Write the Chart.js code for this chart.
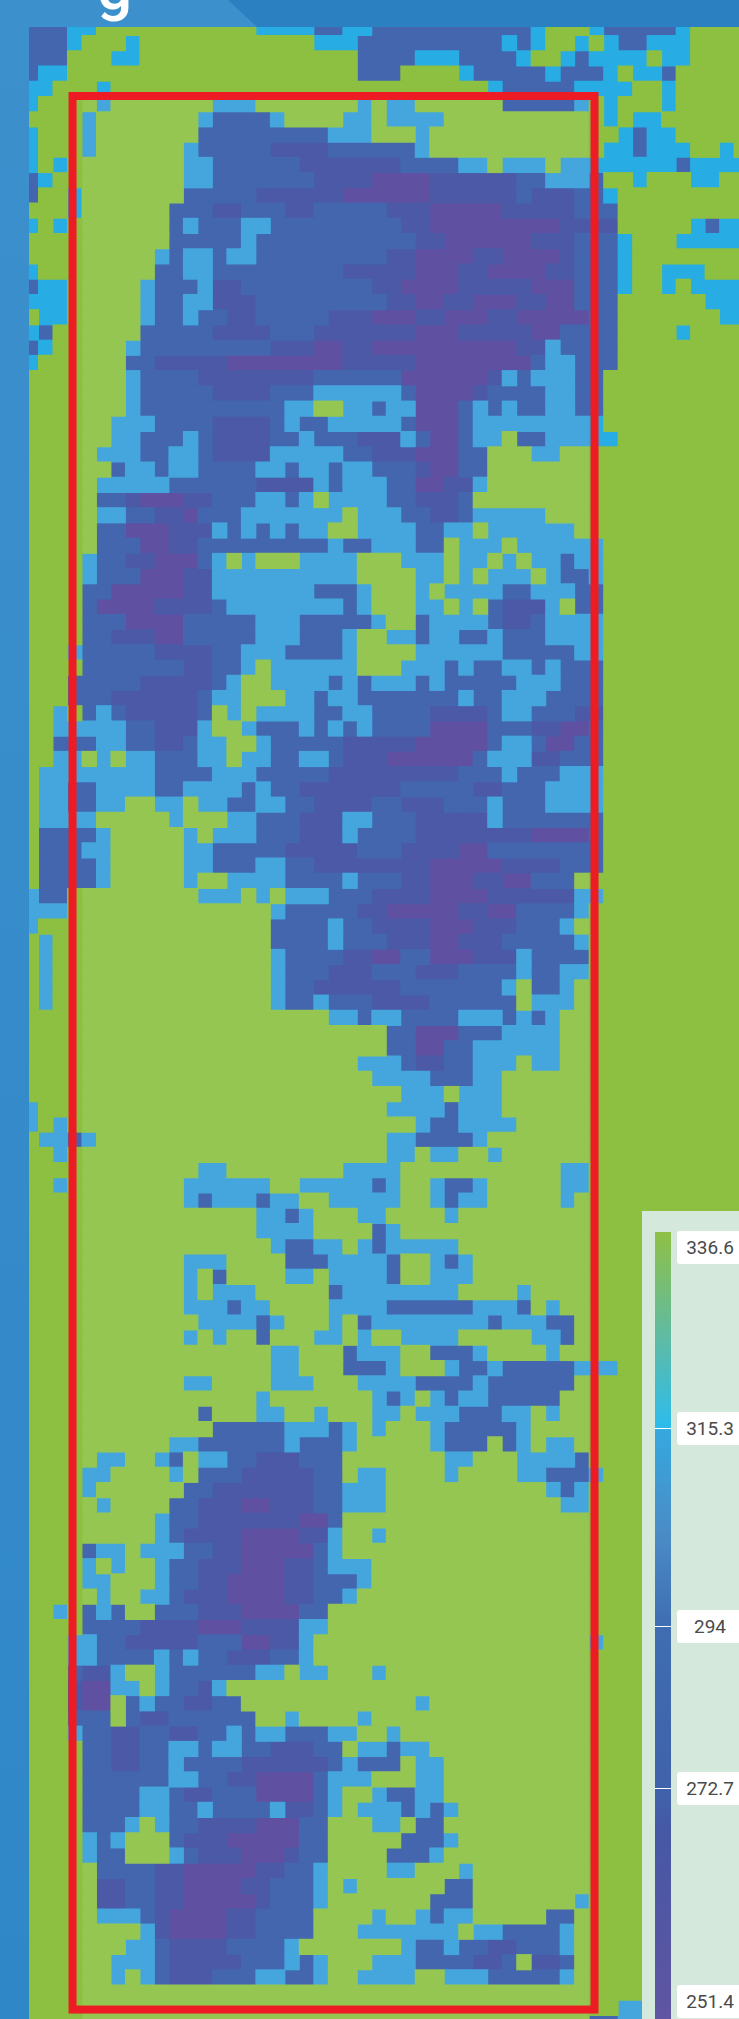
<!DOCTYPE html>
<html>
<head>
<meta charset="utf-8">
<script src="https://cdn.jsdelivr.net/npm/chart.js@4/dist/chart.umd.min.js"></script>
<style>
  html, body { margin: 0; padding: 0; background: #3089c8; }
  body { position: relative; width: 739px; height: 2019px; overflow: hidden; font-family: Roboto, sans-serif; }
  #strip { position: absolute; left: 0; top: 0; width: 29px; height: 2019px; background: linear-gradient(#3c90cc, #3087c8); }
  #header { position: absolute; left: 0; top: 0; width: 739px; height: 27px; background: #3c90cc; overflow: hidden; }
  #headerDark { position: absolute; inset: 0; background: #2a80c0; clip-path: polygon(228px 0, 257px 27px, 739px 27px, 739px 0); }
  #title { position: absolute; left: 97px; top: -47px; font: 500 62px/70px Roboto, sans-serif; color: #fff; }
  #heat { position: absolute; left: 29px; top: 27px; filter: blur(0.7px); }
  #panel { position: absolute; left: 642px; top: 1211px; width: 97px; height: 808px; background: #d5e8dc; }
  #ramp { position: absolute; left: 13px; top: 21px; width: 16px; height: 787px;
    background: linear-gradient(#8fc045 0px, #5dbba8 110px, #2dbcec 195px, #36a8df 199px, #4a8cc6 300px, #3f6db2 395px, #4062aa 560px, #4658a5 600px, #6055a2 787px); }
  .tick { position: absolute; left: 13px; width: 16px; height: 1px; background: #fff; }
  .lab { position: absolute; left: 35px; width: 66px; height: 33px; line-height: 33px; background: #fff; border-radius: 3px; text-align: center; font-size: 19px; color: #4a4a4a; }
</style>
</head>
<body>
<div id="strip"></div>
<canvas id="heat" width="710" height="1992"></canvas>
<div id="header"><div id="headerDark"></div><div id="title">g</div></div>
<div id="panel"><div id="ramp"></div></div>
<script>
// each row: "startColumn+level", a run lasts until the next token
const rowRuns = [
"0b 3c 5g 16c 20b 22c 24b 35c 36g 39c 40b 45c 46g",
"0b 3c 4g 7c 8g 20c 23b 33c 34b 35c 36g 38c 39g 40c 41b 43c 46g",
"0b 3g 6c 8g 23b 27c 30b 34c 35g 37c 38b 39c 43g 44c 46g",
"0b 1c 3g 23b 26g 30c 31b 36c 37b 40c 41g 42c 44b 45g",
"0c 2g 5c 6g 32c 33b 38c 42g 44c 45g",
"0c 1g 5c 6g 13c 16g 23c 24g 25c 27g 33b 38c 39g 40c 41g 44c 45g",
"0g 4c 5g 12c 13b 17c 18g 22c 24g 25c 29g 40c 41g 42c 44g",
"0c 1g 4c 5g 12b 21c 24g 27c 28g 41c 42b 43c 45g",
"0c 1g 4c 5g 11c 12b 17m 21b 27c 28g 40c 42b 43c 46g 48c 49g",
"0c 1g 2c 3g 11c 13b 19m 26b 30c 32g 33c 36g 37c 45b 46c",
"0b 1c 2g 11c 13b 20m 24p 28m 34b 36c 39b 40g 42c 43g 46c 48g",
"0b 1g 3c 4g 11b 16m 22p 28m 34b 35m 38b 40c 41g",
"0g 3c 4g 10b 13m 15b 18m 20b 25m 28p 33m 38b 41g",
"0c 1g 2c 3g 10b 11c 12b 15c 17b 26m 28p 37m 41g 46c 47b 48c",
"0g 10b 15c 16b 27m 29p 35m 38b 41c 42g 45c",
"0g 9c 10b 11c 13b 14c 16b 25m 27p 31m 33p 37m 38b 41c 42g",
"0c 1g 9b 11c 13b 22m 27p 30m 32p 36m 38b 41c 42g 44c 47g",
"0b 1c 3g 8c 9b 12c 13m 15b 24m 26p 30m 35p 38b 41c 42g 44c 45g 46c",
"0c 3g 8c 9b 11c 13m 16b 25m 27p 29m 31p 34m 36p 38b 41g 47c",
"0g 1c 3g 8c 9b 11c 12b 14m 16b 21m 24p 27m 29p 32m 34p 39b 41g 48c",
"0c 1b 2g 8b 13m 17b 20m 27p 30m 35p 37b 41g 45c 46g",
"0b 1c 2g 7c 8b 17m 20p 22m 24p 34m 36c 37b 41g",
"0c 1g 7b 9m 14p 22m 27p 35b 36c 38b 41g",
"0g 7c 8b 12m 20b 26p 32m 33c 34b 35c 38b 40g",
"0g 7c 8b 13m 17b 20c 26b 27p 31m 32b 36c 38b 40g",
"0g 7c 8b 18c 20g 22c 24b 25c 27p 30b 31c 32b 33c 34b 36c 38b 40g",
"0g 6c 9b 13m 17b 18c 19b 21c 26b 27p 30b 31c 40g",
"0g 6c 8b 11c 12b 13m 17b 19c 20b 23m 26c 27b 28p 30b 31c 33g 34b 36c 41g",
"0g 5c 8b 10c 12b 13m 17c 22b 24m 27p 30b 32g 35c 37g",
"0g 6b 7c 9b 10c 12b 16c 18b 19c 21b 22c 24b 27m 28p 30b 32g",
"0g 5c 10b 16m 20c 21b 22c 25b 27p 29m 31c 32g",
"0g 5b 7m 8p 11m 13b 16c 18b 19c 20g 21c 25b 27m 30b 31g",
"0g 5c 7b 9m 11p 12b 15c 22g 23c 26b 28m 30b 31c 36g",
"0g 5b 7p 10m 13c 14b 15c 16b 17c 18b 19c 21g 23c 27b 29c 31g 32c 38g",
"0g 5b 8p 10m 12b 21c 22b 24c 27b 29g 30c 33g 34c 40g",
"0g 4c 5b 7m 9p 12b 13c 14g 15c 16g 19c 23g 26c 29g 30c 32g 33c 34g 35c 37b 38c 40g",
"0g 4c 5b 8p 11m 13c 23g 27c 29g 30c 31g 32c 35g 36c 37b 39c 40g",
"0g 4b 6p 11m 13c 20b 23c 24g 27c 28g 29c 33b 35c 38b 40g",
"0g 4b 5p 9m 13b 14c 22b 23c 24g 27c 29g 30c 31g 32b 33m 36c 37g 38b 40g",
"0g 4b 7p 11b 16c 19b 24c 25g 27b 28c 32b 33m 35b 36c 40g",
"0g 4b 6m 9p 11b 16c 19b 22c 23g 25c 27b 28c 30b 32c 33b 36c 40g",
"0g 3c 4b 9m 13b 15c 18b 22c 23g 27c 33b 38c 40g",
"0g 4b 11m 13b 15c 16g 17c 23g 26c 29b 30c 31b 33c 35b 36c 37b 40g",
"0g 3b 8m 13b 14c 15g 17c 21b 22c 23b 24c 27b 28c 29b 34c 37b 40g",
"0g 3b 6m 8m 12b 13c 15g 18c 20b 21c 23b 30c 31b 33c 36b 40g",
"0g 2c 3g 4b 5c 6b 7m 12b 13g 14c 15g 16c 20b 22c 24b 28m 32b 33c 35b 38m 40g",
"0g 2c 7b 9m 12c 13g 15c 16b 19c 20b 21c 22b 23c 24b 28p 32b 35m 37p 39b 40g",
"0g 2b 5c 7b 9m 11b 12c 14g 16c 17b 22m 27p 32b 33c 35b 36p 38b 40g",
"0g 2c 4g 5c 6g 7c 9b 12c 14g 15c 17b 19c 21b 22m 25p 31b 32c 35m 37b 40g",
"0g 1c 9b 13c 16b 21m 24m 27m 30b 33c 34b 37c 40g",
"0g 1c 3b 5c 9b 11c 15b 16c 17b 19m 26b 31m 33b 36c 40g",
"0g 1c 3b 5c 7g 9c 11g 12c 14b 16c 18b 20m 24b 26m 29b 32c 33b 36c 40g",
"0g 1c 5g 10c 11g 14c 16b 19m 22c 24b 27m 30m 32c 33b 40g",
"0g 1b 5c 6g 11c 12g 13c 16b 19m 22c 23b 27m 31m 35p 39b 40g",
"0g 1b 4c 6g 11c 13b 18m 23b 26m 30p 32b 40g",
"0g 1b 5c 6g 11c 13b 16c 18b 20m 25m 28p 33m 37b 40g",
"0g 1b 5c 6g 11c 12g 14c 18b 22c 23b 26m 28p 31m 33p 35b 38g",
"0c 1b 3g 12c 15g 16c 17g 18c 21b 24m 28p 32m 38c 40g",
"0c 3g 17c 18b 23m 25p 30m 32p 34b 38c 39g",
"0c 1g 17b 21c 22b 24m 28p 31m 32m 34b 37c 38g",
"0g 1c 2g 17b 21c 22b 25m 28p 30m 33b 38c 39g",
"0g 1c 2g 17c 18b 22m 24p 26b 28p 31m 34c 35b 39g",
"0g 1c 2g 17c 18b 21m 24b 27m 30b 34c 35b 37c 39g",
"0g 1c 2g 17c 18b 20m 22m 26b 33c 34g 35b 37c 38g",
"0g 1c 2g 17c 18b 20c 21b 24m 28b 34g 35c 38g",
"0g 21c 23b 24c 26b 30c 33b 34c 35b 36c 37g",
"0g 25b 27p 30b 33c 37g",
"0g 25b 27p 29b 31c 37g",
"0g 23c 26b 27m 29b 31c 34g 35c 37g",
"0g 24c 28b 31c 33g",
"0g 26c 29g 30c 33g",
"0c 1g 25c 29b 30c 33g",
"0c 1g 2c 3g 27c 28b 30c 34g",
"0g 1c 3b 4c 5g 25c 27b 31c 32g",
"0g 2c 3g 25c 27g 28c 30g 32c 33g",
"0g 12c 14g 22c 26g 37c 39g",
"0g 2c 3g 11c 17g 19c 24b 25c 26g 28c 29b 31c 32g 37c 39g",
"0g 11c 12b 13c 16b 17c 19g 21c 26g 28c 29b 30c 32g 37c 38g",
"0g 16c 18b 19c 20g 23c 25g 29c 30g",
"0g 16c 20g 24b 25c 26g",
"0g 17c 18b 20c 22g 23c 24b 25c 30g",
"0g 11c 14g 18b 21c 25b 26g 28c 29b 30c 31g",
"0g 11c 12g 13b 14g 18c 20g 21c 25b 26g 28c 31g",
"0g 11c 12g 13c 16g 21b 22c 30g 34c 35g",
"0g 11c 14b 15c 17g 21c 25b 31c 34b 35g 36c 37g",
"0g 12c 16b 17c 18g 21c 22g 23b 24c 32b 33c 36b 38g",
"0g 11c 12g 13c 14g 16b 17g 20c 22g 23c 24g 26c 30g 35c 37b 38g",
"0g 17c 19g 22b 23c 26g 28b 31c 32g 36c 37g",
"0g 17c 19g 22b 25c 26g 29c 30b 32c 33b 38c 41g",
"0g 11c 13g 17c 20g 23c 27b 31c 32b 38g",
"0g 16c 17g 24c 25b 26c 27g 28c 29b 30c 32b 37g",
"0g 12b 13g 16c 18g 20c 21g 24c 26g 27c 30b 33c 35g 36c 37g",
"0g 13b 18c 21b 22c 23g 24c 25g 28c 29b 34c 35g",
"0g 10c 12b 18c 19b 22c 23g 28c 29b 32g 33b 34c 35g 36c 38g",
"0g 5c 7g 9c 10b 11g 12c 14b 16m 19b 22g 29c 31g 34c 38b 39g",
"0g 4c 6g 10c 11g 12b 15m 18m 20b 22g 23c 25g 29c 30g 34c 36b 39c 40g",
"0g 4c 5g 11b 13m 20b 22c 25g 36c 37b 38c 39g",
"0g 5c 6g 10b 12m 15p 17m 20b 22c 25g 37c 39g",
"0g 9c 10b 12m 16m 19p 21b 22g",
"0g 9c 10b 11m 15p 19m 21c 22g 24c 25g",
"0g 4b 5c 7g 8c 11b 13m 15p 20b 21c 22g",
"0g 4c 5g 6c 7g 9c 10b 12m 15p 18m 20b 21c 24g",
"0g 4c 6g 9c 10b 12m 14p 18m 20b 23c 24g",
"0g 5c 6g 8c 10b 11m 14p 18m 20b 22c 23g",
"0g 2c 3g 4b 5c 6b 7g 9b 12m 15p 19b 21g",
"0g 4b 8m 12p 15m 19c 21g",
"0g 3c 5b 7m 12b 15p 17m 19c 20g 39c 40g",
"0g 3c 5b 9c 10b 11c 12b 14m 17b 19c 20g",
"0g 3b 4m 6c 7g 9c 10b 16c 18g 19c 21g 24c 25g",
"0g 3m 4p 6c 8g 9c 10b 12m 13c 14g",
"0g 3m 4p 6g 7b 8c 9b 11m 13b 15g 27c 28g",
"0g 3b 6g 7b 8m 10b 14b 16g 18c 19g 23c 24g",
"0g 3c 4b 6m 8b 10m 12b 14c 15b 16c 18b 21c 23g 25c 26g",
"0g 4b 6m 8b 10c 12b 13c 15b 17m 20b 22g 23c 25b 26c 28g",
"0g 4b 6m 8b 10c 11b 15m 21b 22c 23b 26g 27c 29g",
"0g 4b 10c 12b 14m 16p 20b 21c 24g 27c 29g",
"0g 4b 8c 10b 11m 13b 16p 20b 21c 22g 24c 25b 27c 29g",
"0g 4b 8c 10b 12c 13b 17c 18m 20b 21c 22g 23c 26b 27c 28b 29c 30g",
"0g 4b 7c 8g 9c 10b 12m 16p 19b 21g 24c 26g 27b 29g",
"0g 4c 5b 6c 7g 10b 11m 14p 16p 19b 21g 26b 29c 30g",
"0g 4c 5b 7g 10c 11b 12m 15p 18m 19b 21g 25b 28c 29g",
"0g 5b 9m 11p 16m 18b 20c 21g 25c 27g 30c 31g",
"0g 5m 7b 9m 11p 15m 17b 20c 21g 22c 23g 29b 31g",
"0g 5m 7b 9m 11p 16m 17b 20c 21g 28b 31g 38c 39g",
"0g 5c 8b 9m 10p 14m 16b 20g 24c 25g 27c 28b 29c 31g 36b 38g",
"0g 8c 9m 10p 14m 16b 20g 23c 30g 31c 33b 37c 38g",
"0g 7c 9b 10m 13m 14b 18c 19g 26c 27b 29c 30b 32m 34b 37c 38g",
"0g 6c 9b 10m 13m 15b 18c 19b 20c 21g 24c 27b 31m 33b 34g 35m 37b 38g",
"0g 6c 7g 8c 9b 10m 12m 13b 16c 18b 20c 21g 23c 27g 29c 32b 37c 38g",
"0g",
"0g 41c",
"0g 39b 41c"
];

const levels = ["g", "h", "a", "c", "b", "m", "p"];
const levelColors = ["#8dbf41", "#95c652", "#27ace3", "#44a6dd", "#4366ae", "#4b59a7", "#5f50a1"];

const legendValues = ["336.6", "315.3", "294", "272.7", "251.4"];
const legendTops = [20, 201, 399, 561, 774];

const columnCount = 50;
const boxCols = [3.35, 39.37];
const boxRows = [4.97, 130.61];

// green and cyan read lighter or brighter depending on the side of the box
function levelAt(letter, col, row) {
  const inBox = col >= 4 && col < 39 && row >= 5;
  if (letter === "g" && inBox) return "h";
  if (letter === "c" && !inBox && row < 30) return "a";
  return letter;
}

const barsByLevel = {};
levels.forEach(l => barsByLevel[l] = []);

rowRuns.forEach((line, row) => {
  const tokens = line.split(" ");
  tokens.forEach((tok, i) => {
    const start = parseInt(tok);
    const end = i + 1 < tokens.length ? parseInt(tokens[i + 1]) : columnCount;
    const letter = tok.slice(-1);
    let from = start;
    for (let col = start + 1; col <= end; col++) {
      const cur = levelAt(letter, from, row);
      if (col === end || levelAt(letter, col, row) !== cur) {
        barsByLevel[cur].push({ x: [from, col], y: row + 0.5 });
        from = col;
      }
    }
  });
});

const redBox = {
  id: "redBox",
  afterDatasetsDraw(chart) {
    const { ctx, scales } = chart;
    const left = scales.x.getPixelForValue(boxCols[0]);
    const right = scales.x.getPixelForValue(boxCols[1]);
    const top = scales.y.getPixelForValue(boxRows[0]);
    const bottom = scales.y.getPixelForValue(boxRows[1]);
    ctx.save();
    ctx.strokeStyle = "#ed1c24";
    ctx.lineWidth = 8;
    ctx.strokeRect(left, top, right - left, bottom - top);
    ctx.restore();
  }
};

new Chart(document.getElementById("heat"), {
  type: "bar",
  data: {
    datasets: levels.map((l, i) => ({
      label: l,
      data: barsByLevel[l],
      backgroundColor: levelColors[i],
      barPercentage: 1,
      categoryPercentage: 1,
      grouped: false,
      inflateAmount: 0.5
    }))
  },
  options: {
    indexAxis: "y",
    responsive: false,
    animation: false,
    layout: { padding: 0 },
    plugins: { legend: { display: false }, tooltip: { enabled: false } },
    scales: {
      x: { type: "linear", display: false, min: 0.345, max: 49.34 },
      y: { type: "linear", display: false, offset: false, reverse: true, min: 0.44, max: 131.23, ticks: { stepSize: 20 } }
    }
  },
  plugins: [redBox]
});

const panel = document.getElementById("panel");
legendValues.forEach((v, i) => {
  const lab = document.createElement("div");
  lab.className = "lab";
  lab.textContent = v;
  lab.style.top = legendTops[i] + "px";
  panel.appendChild(lab);
  if (i > 0 && i < legendValues.length - 1) {
    const tick = document.createElement("div");
    tick.className = "tick";
    tick.style.top = legendTops[i] + 16 + "px";
    panel.appendChild(tick);
  }
});
</script>
</body>
</html>
